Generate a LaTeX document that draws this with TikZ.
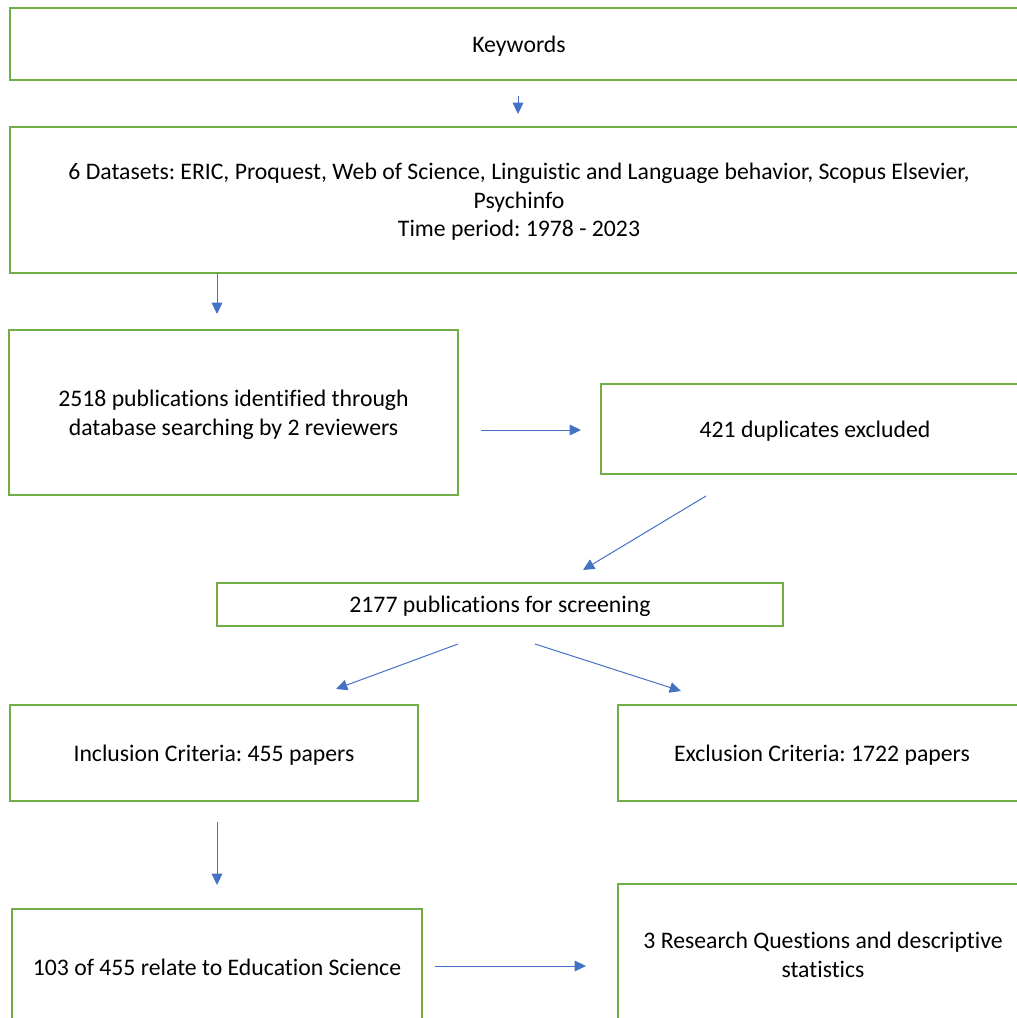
\documentclass[tikz,border=0pt]{standalone}
\usepackage{fontspec}
\setmainfont[Ligatures=NoCommon]{Carlito}
\usetikzlibrary{arrows.meta}
\definecolor{boxgreen}{RGB}{112,173,71}
\definecolor{arrowblue}{RGB}{68,114,196}
\tikzset{every picture/.style={line width=0.75pt}}
\frenchspacing

\begin{document}
\begin{tikzpicture}[x=0.75pt,y=0.75pt,yscale=-1,xscale=1,
  flowbox/.style={draw=boxgreen, line width=1.5pt, align=center, inner sep=0pt, text depth=0pt,
    font=\fontsize{17.8}{21.4}\selectfont},
  flowarrow/.style={arrowblue, line width=0.75pt, -{Triangle[length=8.5pt,width=8pt]}}]
%set diagram area
\useasboundingbox (0,0) rectangle (1017,1018);
\clip (0,0) rectangle (1017,1018);

% Boxes
\node [flowbox, minimum width=763.5pt, minimum height=54pt] (keywords) at (519,44) {Keywords};
\node [flowbox, minimum width=763.5pt, minimum height=109.5pt] (datasets) at (519,200) {6 Datasets: ERIC, Proquest, Web of Science, Linguistic and Language behavior, Scopus Elsevier,\\Psychinfo\\Time period: 1978 - 2023};
\node [flowbox, minimum width=336.75pt, minimum height=123.75pt] (identified) at (233.5,412.5) {2518 publications identified through\\database searching by 2 reviewers};
\node [flowbox, minimum width=321pt, minimum height=67.5pt] (duplicates) at (815,429) {421 duplicates excluded};
\node [flowbox, minimum width=424.5pt, minimum height=32.25pt] (screening) at (500,604.5) {2177 publications for screening};
\node [flowbox, minimum width=306pt, minimum height=72pt] (inclusion) at (214,753) {Inclusion Criteria: 455 papers};
\node [flowbox, minimum width=306pt, minimum height=72pt] (exclusion) at (822,753) {Exclusion Criteria: 1722 papers};
\node [flowbox, minimum width=307.5pt, minimum height=87pt] (education) at (217,967) {103 of 455 relate to Education Science};
\node [flowbox, minimum width=307.5pt, minimum height=106.5pt] (questions) at (823,955) {3 Research Questions and descriptive\\statistics};

% Arrow ends
\coordinate (kwOut) at (518,96);    \coordinate (dsIn) at (518,114);
\coordinate (dsOut) at (217,273);   \coordinate (idIn) at (217,314);
\coordinate (idOut) at (481,430);   \coordinate (dupIn) at (581,430);
\coordinate (dupOut) at (706,496);  \coordinate (scrIn) at (583,570);
\coordinate (scrOutA) at (458,644); \coordinate (incIn) at (336,689);
\coordinate (scrOutB) at (535,644); \coordinate (excIn) at (681,691);
\coordinate (incOut) at (217,822);  \coordinate (eduIn) at (217,885);
\coordinate (eduOut) at (435,966);  \coordinate (rqIn) at (586,966);

% Arrows
\draw [flowarrow] (kwOut) -- (dsIn);
\draw [flowarrow] (dsOut) -- (idIn);
\draw [flowarrow] (idOut) -- (dupIn);
\draw [flowarrow] (dupOut) -- (scrIn);
\draw [flowarrow] (scrOutA) -- (incIn);
\draw [flowarrow] (scrOutB) -- (excIn);
\draw [flowarrow] (incOut) -- (eduIn);
\draw [flowarrow] (eduOut) -- (rqIn);

\end{tikzpicture}
\end{document}
